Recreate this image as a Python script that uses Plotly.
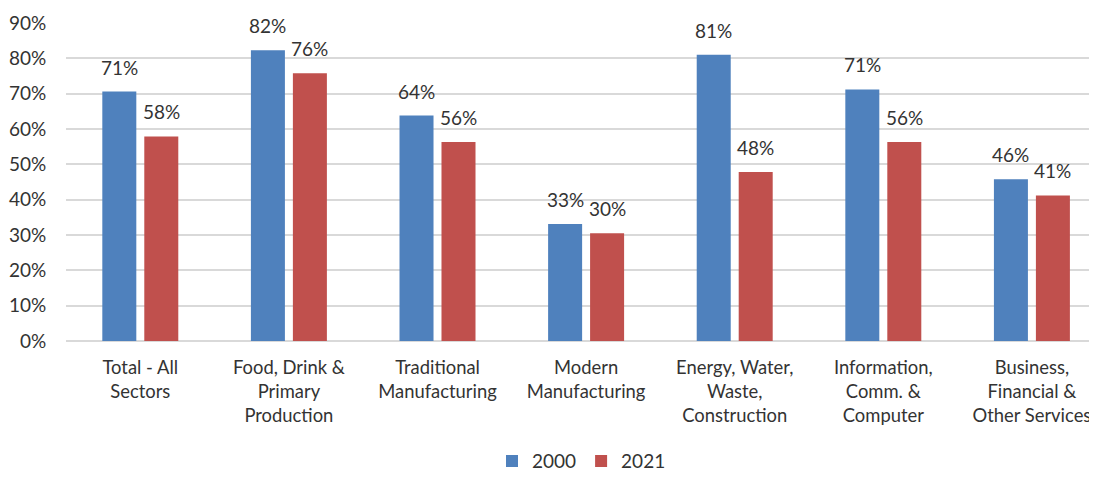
import plotly.graph_objects as go

categories = ["Total - All<br>Sectors", "Food, Drink &<br>Primary<br>Production",
              "Traditional<br>Manufacturing", "Modern<br>Manufacturing",
              "Energy, Water,<br>Waste,<br>Construction", "Information,<br>Comm. &<br>Computer",
              "Business,<br>Financial &<br>Other Services"]
series_names = ["2000", "2021"]
values_2000 = [70.6, 82.3, 63.8, 33.1, 81.0, 71.2, 45.8]
values_2021 = [57.9, 75.8, 56.3, 30.5, 47.8, 56.3, 41.2]
y_ticks = [0, 10, 20, 30, 40, 50, 60, 70, 80, 90]

colors = ["#4F81BD", "#C0504D"]
FONT = "Lato"
TXT = "#333333"

fig = go.Figure()
for name, vals, col in zip(series_names, [values_2000, values_2021], colors):
    fig.add_trace(go.Bar(x=categories, y=vals, name=name, marker_color=col,
                         marker_line_width=0))

for vals, shift in [(values_2000, -21), (values_2021, 21)]:
    for c, v in zip(categories, vals):
        fig.add_annotation(x=c, y=v, text=f"{round(v)}%", showarrow=False,
                           xshift=shift, yshift=11, yanchor="bottom",
                           font=dict(family=FONT, size=19, color=TXT))

fig.update_layout(
    width=1089, height=469,
    margin=dict(l=58, r=0, t=15, b=136, autoexpand=False),
    paper_bgcolor="white", plot_bgcolor="white",
    barmode="group", bargap=0.435, bargroupgap=0.19,
    font=dict(family=FONT, size=19, color=TXT),
    legend=dict(orientation="h", x=0.5, xanchor="center", y=-0.378, yanchor="middle",
                font=dict(family=FONT, size=19, color=TXT),
                itemwidth=30, traceorder="normal"),
    xaxis=dict(range=[-0.5, 6.438], showgrid=False, showline=False, zeroline=False,
               automargin=False,
               ticks="outside", ticklen=10, tickcolor="rgba(0,0,0,0)",
               tickfont=dict(family=FONT, size=18.4, color=TXT)),
    yaxis=dict(range=[0, 90], tickvals=y_ticks, ticktext=[f"{t}%" for t in y_ticks],
               automargin=False,
               showgrid=True, gridcolor="#D9D9D9", gridwidth=1.5, zeroline=True,
               zerolinecolor="#D9D9D9", zerolinewidth=1.5, showline=False,
               ticks="outside", ticklen=15, tickcolor="rgba(0,0,0,0)",
               tickfont=dict(family=FONT, size=19, color=TXT)),
)
fig.write_html("out.html")
